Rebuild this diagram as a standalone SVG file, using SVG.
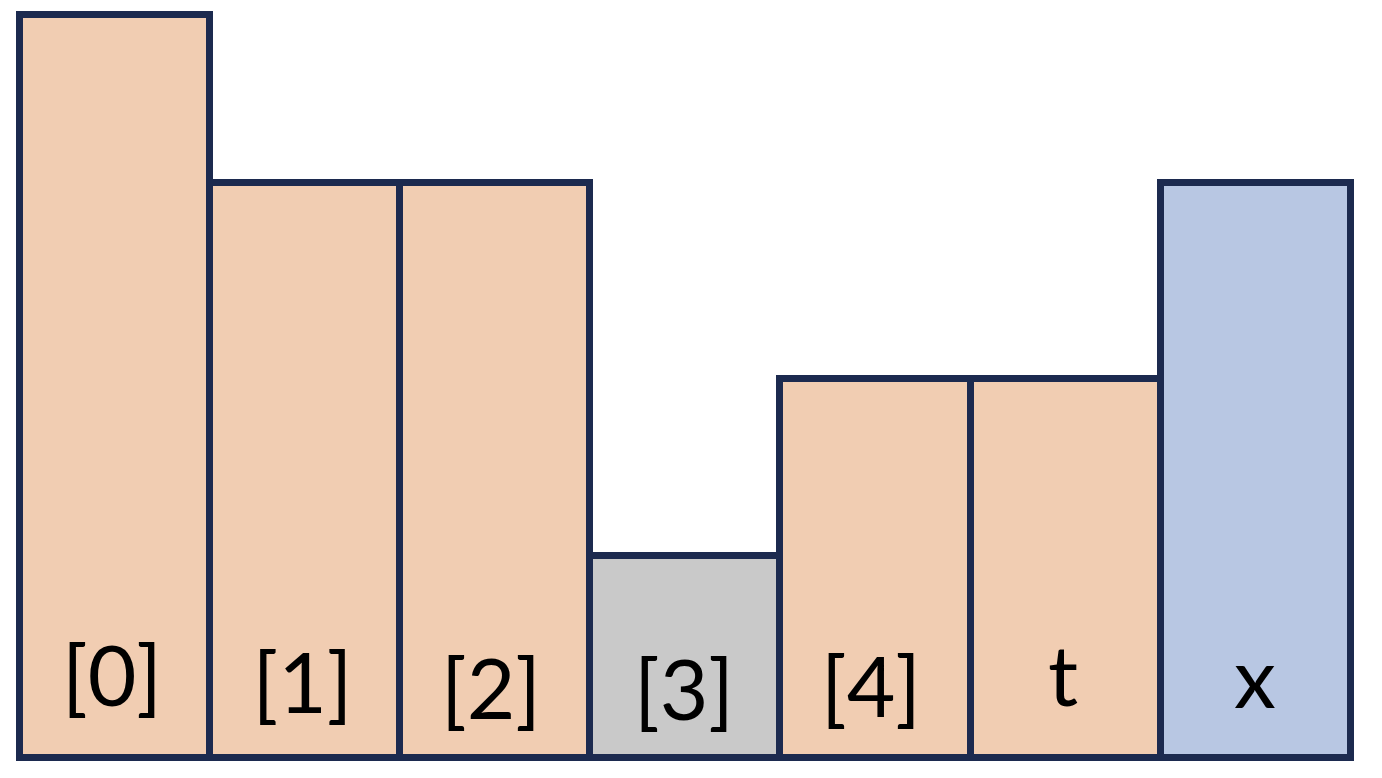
<svg xmlns="http://www.w3.org/2000/svg" width="1382" height="778" viewBox="0 0 1382 778">
<style>
.b{stroke:#1C2A4F;stroke-width:7}
.p{fill:#F1CDB2}
.g{fill:#C9C9C9}
.u{fill:#B8C7E3}
text{font-family:Lato,"Open Sans",sans-serif;font-size:84px;fill:#000;text-anchor:middle}
</style>
<rect width="1382" height="778" fill="#fff"/>
<g id="n0"><rect class="b p" x="19.5" y="14.5" width="190" height="743"/><text x="112" y="706">[0]</text></g>
<g id="n1"><rect class="b p" x="209.5" y="182.5" width="190" height="575"/><text x="302.5" y="713">[1]</text></g>
<g id="n2"><rect class="b p" x="399.5" y="182.5" width="190" height="575"/><text x="491" y="719">[2]</text></g>
<g id="n3"><rect class="b g" x="589.5" y="555.5" width="190" height="202"/><text x="684" y="720">[3]</text></g>
<g id="n4"><rect class="b p" x="779.5" y="378.5" width="191" height="379"/><text x="871" y="717">[4]</text></g>
<g id="nt"><rect class="b p" x="970.5" y="378.5" width="190" height="379"/><text x="1063" y="706">t</text></g>
<g id="nx"><rect class="b u" x="1160.5" y="182.5" width="190" height="575"/><text x="1255" y="708">x</text></g>
<g id="connectors"></g>
</svg>
